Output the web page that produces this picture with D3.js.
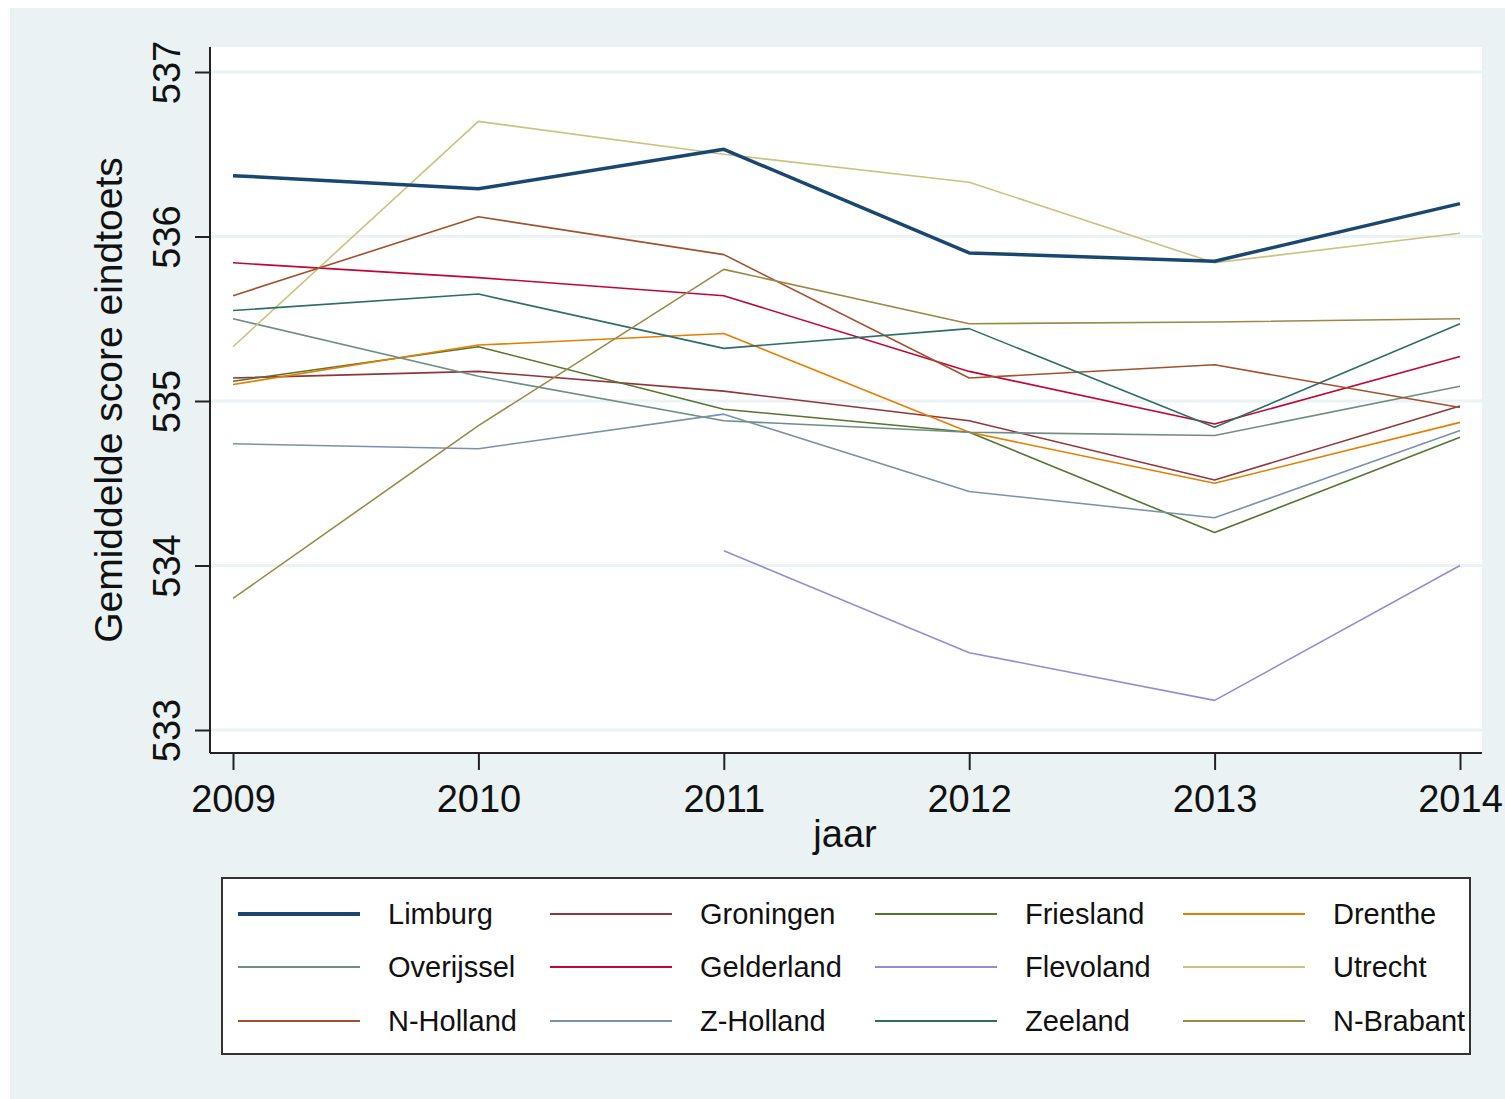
<!DOCTYPE html>
<html><head><meta charset="utf-8">
<script src="https://cdn.jsdelivr.net/npm/d3@7"></script>
<style>html,body{margin:0;padding:0;background:#fff;}svg{display:block;font-family:"Liberation Sans",Arial,sans-serif;}</style>
</head><body>
<svg id="chart" width="1505" height="1099"></svg>
<script>
const years = [2009, 2010, 2011, 2012, 2013, 2014];
const yTicks = [533, 534, 535, 536, 537];
const provinces = ["Limburg","Groningen","Friesland","Drenthe","Overijssel","Gelderland","Flevoland","Utrecht","N-Holland","Z-Holland","Zeeland","N-Brabant"];
const colors = ["#1a476f","#90353b","#55752f","#e37e00","#6e8e84","#c10534","#938dd2","#cac27e","#a0522d","#7b92a8","#2d6d66","#9c8847"];
const limburg    = [536.37, 536.29, 536.53, 535.90, 535.85, 536.20];
const groningen  = [535.14, 535.18, 535.06, 534.88, 534.52, 534.97];
const friesland  = [535.12, 535.33, 534.95, 534.81, 534.20, 534.78];
const drenthe    = [535.10, 535.34, 535.41, 534.81, 534.50, 534.87];
const overijssel = [535.50, 535.15, 534.88, 534.81, 534.79, 535.09];
const gelderland = [535.84, 535.75, 535.64, 535.18, 534.86, 535.27];
const flevoland  = [null, null, 534.09, 533.47, 533.18, 534.00];
const utrecht    = [535.33, 536.70, 536.50, 536.33, 535.84, 536.02];
const nholland   = [535.64, 536.12, 535.89, 535.14, 535.22, 534.96];
const zholland   = [534.74, 534.71, 534.92, 534.45, 534.29, 534.82];
const zeeland    = [535.55, 535.65, 535.32, 535.44, 534.84, 535.47];
const nbrabant   = [533.80, 534.85, 535.80, 535.47, 535.48, 535.50];
const seriesValues = [limburg, groningen, friesland, drenthe, overijssel, gelderland, flevoland, utrecht, nholland, zholland, zeeland, nbrabant];

const svg = d3.select("#chart");
const bg = "#eaf2f3";
svg.append("rect").attr("x",10).attr("y",8).attr("width",1495).attr("height",1091).attr("fill",bg);

const plot = {left:210, right:1482, top:47, bottom:753};
svg.append("rect").attr("x",plot.left).attr("y",plot.top).attr("width",plot.right-plot.left).attr("height",plot.bottom-plot.top).attr("fill","#fff");

const x = d3.scaleLinear().domain([2009,2014]).range([233,1460]);
const y = d3.scaleLinear().domain([533,537]).range([730,72]);

// gridlines
svg.append("g").selectAll("line").data(yTicks).join("line")
  .attr("x1",plot.left).attr("x2",plot.right)
  .attr("y1",d=>y(d)).attr("y2",d=>y(d))
  .attr("stroke",bg).attr("stroke-width",3);

// series lines (Limburg drawn last, on top)
const line = d3.line().defined(d=>d.v!=null).x(d=>x(d.year)).y(d=>y(d.v));
const order = d3.range(1, provinces.length).concat([0]);
order.forEach(i=>{
  const data = years.map((yr,j)=>({year:yr, v:seriesValues[i][j]}));
  svg.append("path").datum(data).attr("d",line).attr("fill","none")
    .attr("stroke",colors[i]).attr("stroke-width", i===0?3.5:1.6)
    .attr("stroke-linejoin","round");
});

// y axis
const yAxis = d3.axisLeft(y).tickValues(yTicks).tickSize(15).tickPadding(14).tickFormat(d3.format("d"));
const gy = svg.append("g").attr("transform",`translate(${plot.left},0)`).call(yAxis);
gy.select(".domain").attr("d",`M0,${plot.top}V${plot.bottom}`).attr("stroke","#222").attr("stroke-width",2);
gy.selectAll(".tick line").attr("stroke","#222").attr("stroke-width",2);
gy.selectAll(".tick text").attr("font-size",38).attr("fill","#111")
  .attr("x",null).attr("dy",null)
  .attr("text-anchor","middle")
  .attr("transform","translate(-30,0) rotate(-90)");

// x axis
const xAxis = d3.axisBottom(x).tickValues(years).tickSize(17).tickPadding(10).tickFormat(d3.format("d"));
const gx = svg.append("g").attr("transform",`translate(0,${plot.bottom})`).call(xAxis);
gx.select(".domain").attr("d",`M${plot.left},0H${plot.right}`).attr("stroke","#222").attr("stroke-width",2);
gx.selectAll(".tick line").attr("stroke","#222").attr("stroke-width",2);
gx.selectAll(".tick text").attr("font-size",38).attr("fill","#111").attr("dy",null).attr("y",59);

// axis titles
svg.append("text").attr("transform","translate(122,400) rotate(-90)").attr("text-anchor","middle")
  .attr("font-size",39).attr("fill","#111").text("Gemiddelde score eindtoets");
svg.append("text").attr("x",845).attr("y",847).attr("text-anchor","middle")
  .attr("font-size",38).attr("fill","#111").text("jaar");

// legend
const lg = svg.append("g");
lg.append("rect").attr("x",222).attr("y",878).attr("width",1248).attr("height",176)
  .attr("fill","#fff").attr("stroke","#333").attr("stroke-width",2);
const colX = [238, 550, 875, 1183];
const rowY = [914, 967, 1021];
provinces.forEach((p,i)=>{
  const c = i%4, r = Math.floor(i/4);
  lg.append("line").attr("x1",colX[c]).attr("x2",colX[c]+122).attr("y1",rowY[r]).attr("y2",rowY[r])
    .attr("stroke",colors[i]).attr("stroke-width", i===0?4:2);
  lg.append("text").attr("x",colX[c]+150).attr("y",rowY[r]+10).attr("font-size",29).attr("fill","#111").text(p);
});
</script>
</body></html>
